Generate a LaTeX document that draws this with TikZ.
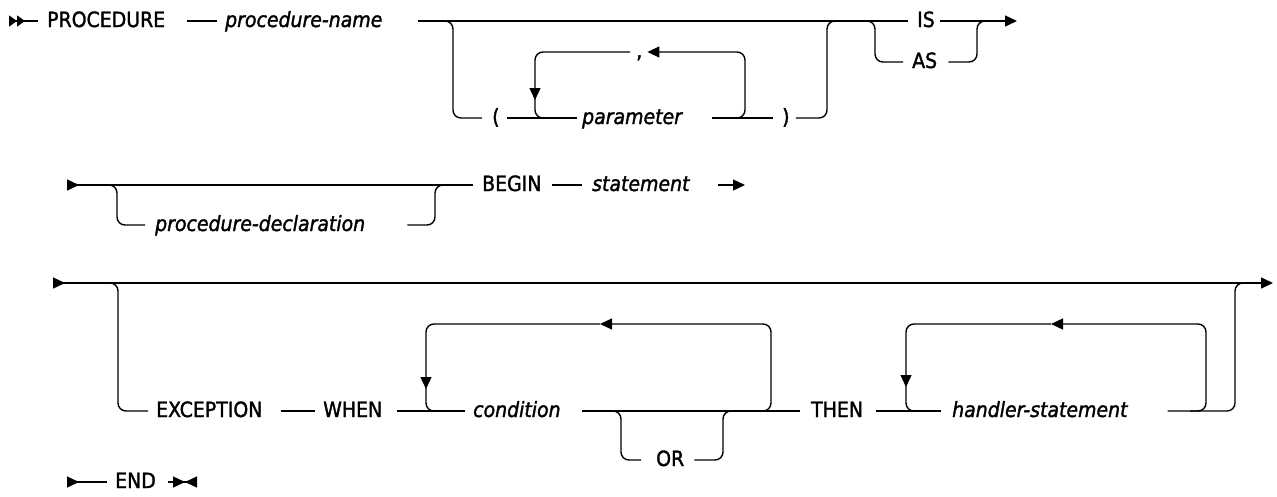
\documentclass[tikz,border=0pt]{standalone}
\usepackage{fontspec}
\setmainfont{DejaVu Sans}[FakeBold=1.6, FakeStretch=0.9]
\usetikzlibrary{arrows.meta}
\tikzset{
  railtip/.tip={Triangle[length=12pt,width=11pt]},
  rail/.style={line width=1.4pt, rounded corners=8pt},
  kw/.style={anchor=base west, inner sep=0pt, text height=14pt, text depth=2pt,
    font=\fontsize{21}{24}\selectfont},
  var/.style={kw, font=\fontsize{21}{24}\selectfont\itshape},
}
\begin{document}
\begin{tikzpicture}[x=1pt,y=-1pt]
\useasboundingbox (0,0) rectangle (1277,496);
\pgfmathsetmacro{\ya}{21}
\pgfmathsetmacro{\yb}{118}
\pgfmathsetmacro{\yc}{52}
\pgfmathsetmacro{\yd}{62}
\pgfmathsetmacro{\ye}{185}
\pgfmathsetmacro{\yf}{225}
\pgfmathsetmacro{\yg}{283}
\pgfmathsetmacro{\yh}{411}
\pgfmathsetmacro{\yi}{324}
\pgfmathsetmacro{\yj}{460}
\pgfmathsetmacro{\yk}{482}

\coordinate (s1) at (9,\ya);
\coordinate (e1) at (1017,\ya);
\node[kw] (proc) at (47,\ya+6) {PROCEDURE};
\node[var] (pname) at (225,\ya+6) {procedure-name};
\node[kw] (lpar) at (492,\yb+6) {(};
\node[var] (param) at (582,\yb+6) {parameter};
\node[kw] (comma) at (636,\yc+6) {,};
\node[kw] (rpar) at (782,\yb+6) {)};
\node[kw] (is) at (917,\ya+6) {IS};
\node[kw] (as) at (912,\yd+6) {AS};
\draw[rail,{railtip[length=8pt,reversed]railtip[length=8pt,reversed]}-] (s1) -- ([xshift=-9]proc.west);
\draw[rail] ([xshift=22]proc.east) -- ([xshift=-8]pname.west);
\draw[rail] ([xshift=35]pname.east) -- ([xshift=-9]is.west);
\draw[rail,-{railtip}] ([xshift=5]is.east) -- (e1);
\draw[rail] (440,\ya) -| (453,\yb) -- ([xshift=-10]lpar.west);
\draw[rail] ([xshift=7]lpar.east) -- ([xshift=-5]param.west);
\draw[rail] ([xshift=30]param.east) -- ([xshift=-9]rpar.west);
\draw[rail] ([xshift=6]rpar.east) -| (827,\ya) -- (840,\ya);
\draw[rail,-{railtip}] (720,\yb) -| (745,\yc) -- ([xshift=5]comma.east);
\draw[rail,-{railtip}] ([xshift=-6]comma.west) -| (535,100);
\draw[rail] (535,90) |- (560,\yb);
\draw[rail] (865,\ya) -| (875,\yd) -- ([xshift=-9]as.west);
\draw[rail] ([xshift=11]as.east) -| (977,\ya) -- (990,\ya);

\coordinate (s2) at (67,\ye);
\coordinate (e2) at (745,\ye);
\node[kw] (begin) at (482,\ye+6) {BEGIN};
\node[var] (stmt) at (592,\ye+6) {statement};
\node[var] (decl) at (155,\yf+6) {procedure-declaration};
\draw[rail,{railtip[reversed]}-] (s2) -- ([xshift=-9]begin.west);
\draw[rail] (105,\ye) -| (117,\yf) -- ([xshift=-10]decl.west);
\draw[rail] ([xshift=42]decl.east) -| (435,\ye) -- (448,\ye);
\draw[rail] ([xshift=10]begin.east) -- ([xshift=-10]stmt.west);
\draw[rail,-{railtip}] ([xshift=28]stmt.east) -- (e2);

\coordinate (s3) at (53,\yg);
\coordinate (e3) at (1273,\yg);
\node[kw] (exc) at (156,\yh+6) {EXCEPTION};
\node[kw] (when) at (323,\yh+6) {WHEN};
\node[var] (cond) at (473,\yh+6) {condition};
\node[kw] (or) at (656,\yj+6) {OR};
\node[kw] (then) at (811,\yh+6) {THEN};
\node[var] (hstmt) at (952,\yh+6) {handler-statement};
\draw[rail,{railtip[reversed]}-{railtip}] (s3) -- (e3);
\draw[rail] (108,\yg) -| (118,\yh) -- ([xshift=-8]exc.west);
\draw[rail] ([xshift=18]exc.east) -- ([xshift=-8]when.west);
\draw[rail] ([xshift=15]when.east) -- ([xshift=-8]cond.west);
\draw[rail] ([xshift=21]cond.east) -- ([xshift=-11]then.west);
\draw[rail,-{railtip}] (750,\yh) -| (771,\yi) -- (600,\yi);
\draw[rail,-{railtip}] (600,\yi) -| (426,389);
\draw[rail] (426,380) |- (445,\yh);
\draw[rail] (605,\yh) -| (621,\yj) -- ([xshift=-15]or.west);
\draw[rail] ([xshift=10]or.east) -| (723,\yh) -- (735,\yh);
\draw[rail] ([xshift=13]then.east) -- ([xshift=-11]hstmt.west);
\draw[rail,-{railtip}] (1190,\yh) -| (1206,\yi) -- (1051,\yi);
\draw[rail,-{railtip}] (1051,\yi) -| (906,387);
\draw[rail] (906,380) |- (925,\yh);
\draw[rail] ([xshift=40]hstmt.east) -| (1235,\yg) -- (1248,\yg);

\coordinate (s4) at (67,\yk);
\coordinate (e4) at (197,\yk);
\node[kw] (endkw) at (115,\yk+6) {END};
\draw[rail,{railtip[reversed]}-] (s4) -- ([xshift=-8]endkw.west);
\draw[rail,-{railtip[]railtip[reversed]}] ([xshift=12]endkw.east) -- (e4);
\end{tikzpicture}
\end{document}
